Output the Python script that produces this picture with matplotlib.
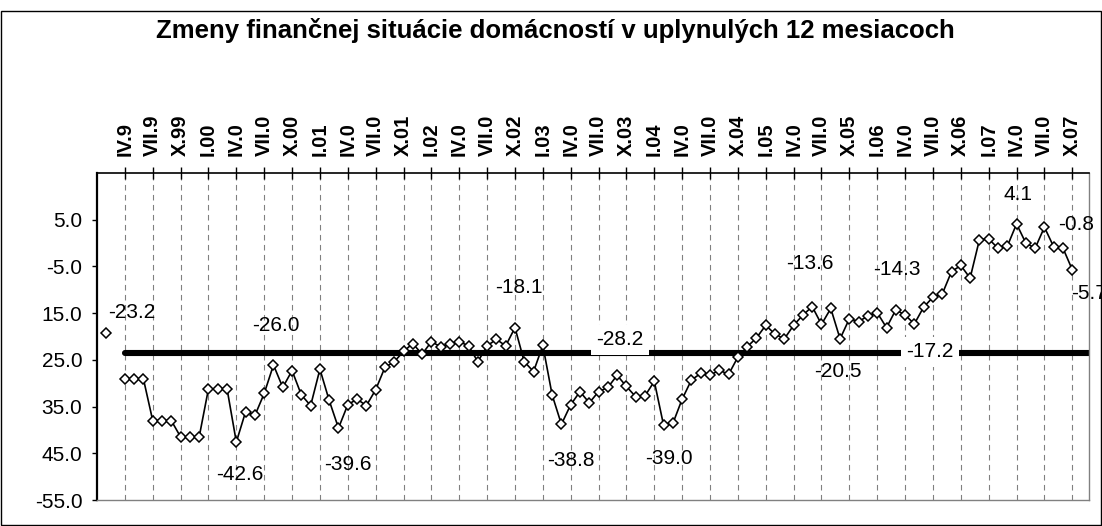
import numpy as np
import matplotlib
matplotlib.use('Agg')
import matplotlib.pyplot as plt
from matplotlib.patches import Rectangle

plt.rcParams['font.family'] = ['Liberation Sans', 'DejaVu Sans']

title = 'Zmeny finančnej situácie domácností v uplynulých 12 mesiacoch'

# monthly index, 0 = I.1999 ; NaN where there is no survey
values = [np.nan, -19.3, np.nan,
          -29.1, -29.1, -29.1, -38.0, -38.0, -38.0, -41.5, -41.5, -41.5,
          -31.2, -31.2, -31.2, -42.6, -36.1, -36.9, -32.2, -26.1, -30.9,
          -27.3, -32.5, -34.8, -27.0, -33.7, -39.6, -34.6, -33.4, -34.8,
          -31.4, -26.6, -25.4, -23.2, -21.5, -23.8, -21.1, -22.2, -21.5,
          -21.1, -22.0, -25.4, -22.0, -20.6, -22.0, -18.1, -25.4, -27.5,
          -21.9, -32.5, -38.8, -34.6, -31.8, -34.2, -31.8, -30.9, -28.3,
          -30.7, -32.9, -32.7, -29.6, -39.0, -38.6, -33.4, -29.3, -27.9,
          -28.3, -27.2, -28.1, -24.4, -22.2, -20.3, -17.6, -19.5, -20.5,
          -17.6, -15.4, -13.6, -17.4, -14.0, -20.5, -16.2, -16.8, -15.6,
          -14.9, -18.1, -14.3, -15.4, -17.3, -13.7, -11.6, -10.9, -6.1,
          -4.8, -7.5, 0.7, 0.9, -1.1, -0.7, 4.1, 0.0, -1.1,
          3.4, -0.8, -1.1, -5.7]
months = np.arange(len(values))

avg_value = -23.5
avg_start = 3
avg_end = 107

tick_months = np.arange(3, 106, 3)
tick_labels = ['IV.9', 'VII.9', 'X.99', 'I.00', 'IV.0', 'VII.0', 'X.00',
               'I.01', 'IV.0', 'VII.0', 'X.01', 'I.02', 'IV.0', 'VII.0',
               'X.02', 'I.03', 'IV.0', 'VII.0', 'X.03', 'I.04', 'IV.0',
               'VII.0', 'X.04', 'I.05', 'IV.0', 'VII.0', 'X.05', 'I.06',
               'IV.0', 'VII.0', 'X.06', 'I.07', 'IV.0', 'VII.0', 'X.07']

y_ticks = [5, -5, -15, -25, -35, -45, -55]
y_labels = ['5.0', '-5.0', '15.0', '25.0', '35.0', '45.0', '-55.0']

# labelled points: month index, text, offset in pixels
point_labels = [(1, '-23.2', 25, 21), (15, '-42.6', 3, -32), (26, '-39.6', 9, -36),
                (45, '-18.1', 4, 40), (50, '-38.8', 9, -36), (61, '-39.0', 5, -33),
                (77, '-13.6', -2, 43), (80, '-20.5', -2, -33), (86, '-14.3', 1, 40),
                (99, '4.1', 1, 29), (103, '-0.8', 22, 22), (105, '-5.7', 17, -24)]
# labels sitting on the average line: month position, text, offset, white box
avg_labels = [(19.3, '-26.0', 0, 27, False), (56.3, '-28.2', 0, 13, True),
              (89.7, '-17.2', 0, 1, True)]

W, H = 1102, 526
fig = plt.figure(figsize=(W / 100, H / 100), dpi=100)
ax = fig.add_axes([97 / W, 1 - 500 / H, (1089 - 97) / W, (500 - 173) / H])

ax.plot([avg_start, avg_end], [avg_value, avg_value], color='black', lw=4.4,
        solid_capstyle='round', zorder=2)
ax.plot(months, values, color='black', lw=1.2, marker='D', ms=5.3,
        mfc='white', mec='black', mew=1.1, zorder=3)

for m, txt, dx, dy in point_labels:
    ax.annotate(txt, (m, values[m]), xytext=(dx, dy), textcoords='offset pixels',
                ha='center', va='center', fontsize=15, zorder=4,
                annotation_clip=False)
for m, txt, dx, dy, boxed in avg_labels:
    kw = {}
    if boxed:
        kw['bbox'] = dict(boxstyle='square,pad=0.25', fc='white', ec='none')
    ax.annotate(txt, (m, avg_value), xytext=(dx, dy), textcoords='offset pixels',
                ha='center', va='center', fontsize=15, zorder=4, **kw)

ax.set_xlim(0, 106.8)
ax.set_ylim(-55, 15)

ax.set_xticks(tick_months)
ax.set_xticklabels(tick_labels, rotation=90, fontweight='bold', fontsize=14.5)
ax.xaxis.set_ticks_position('top')
ax.xaxis.set_label_position('top')
ax.tick_params(axis='x', direction='inout', length=9, width=1, pad=8)
ax.set_yticks(y_ticks)
ax.set_yticklabels(y_labels, fontsize=15)
ax.tick_params(axis='y', direction='out', length=3.6, width=1, pad=7)

ax.grid(axis='x', color='#808080', lw=0.8, ls=(0, (5, 4)))
ax.set_axisbelow(True)

ax.spines['left'].set_linewidth(1.6)
ax.spines['top'].set_linewidth(1.2)
for s in ('right', 'bottom'):
    ax.spines[s].set_color('#808080')
    ax.spines[s].set_linewidth(1.0)

fig.text(555 / W, 1 - 38 / H, title, ha='center', va='baseline',
         fontsize=18.5, fontweight='bold')

fig.patches.append(Rectangle((1 / W, 1 / H), 1 - 2 / W, 1 - 12 / H,
                             transform=fig.transFigure, fill=False,
                             ec='black', lw=1.0))

fig.savefig('out.png', dpi=100)
